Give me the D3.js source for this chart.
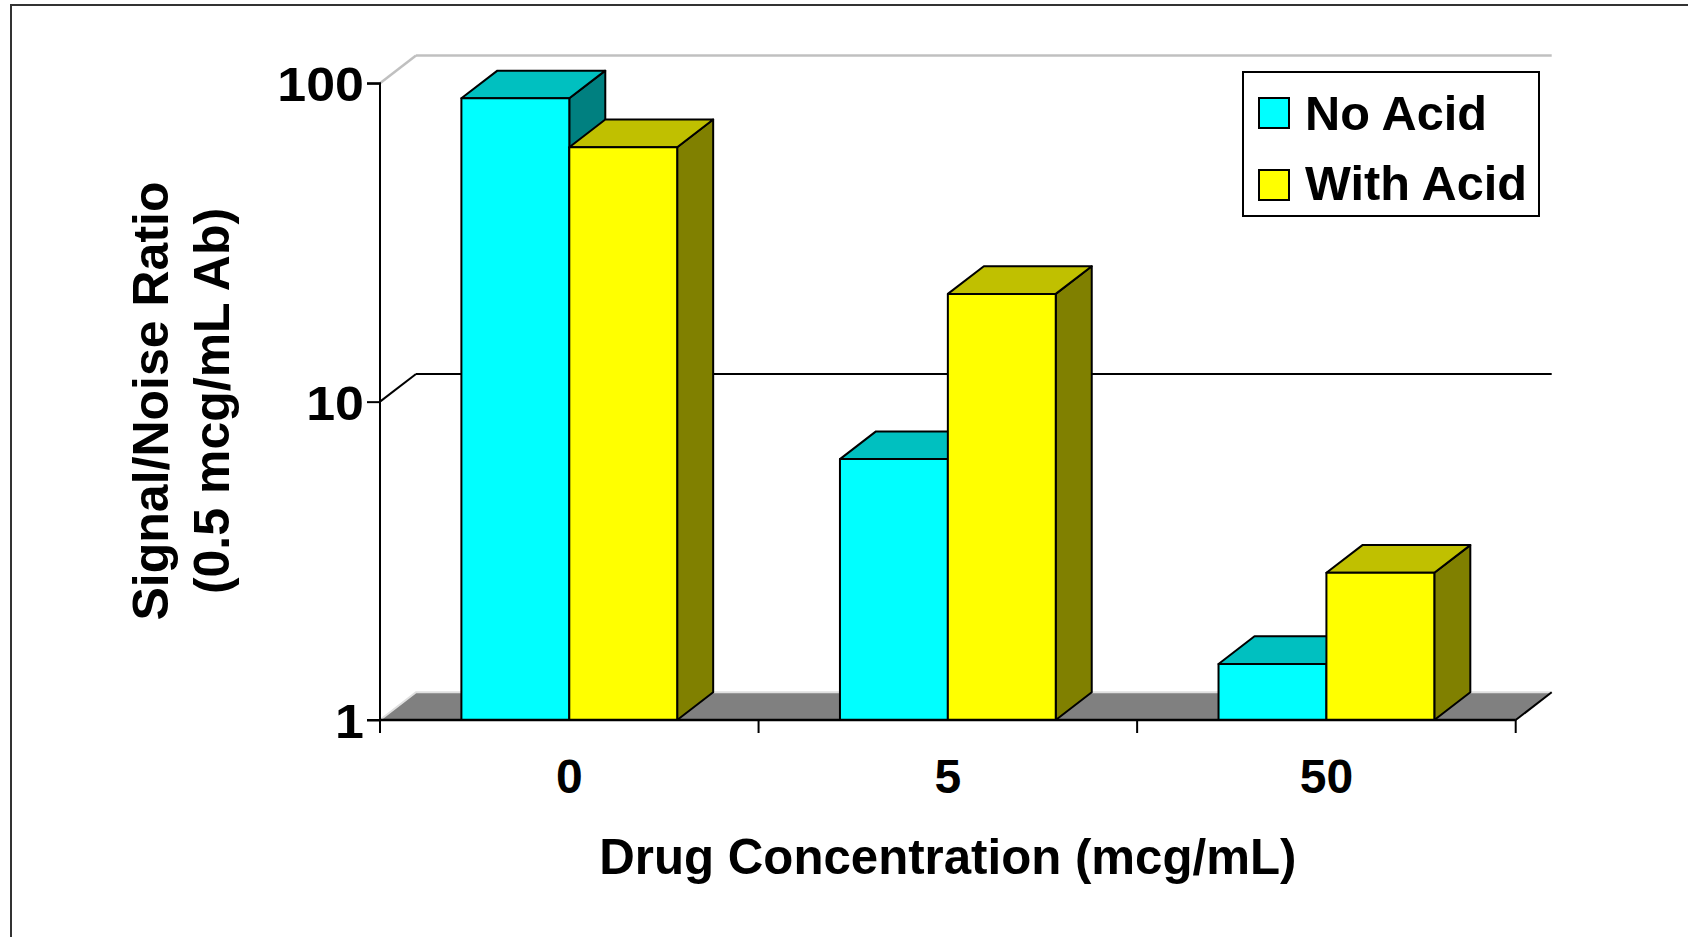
<!DOCTYPE html>
<html>
<head>
<meta charset="utf-8">
<script src="https://cdn.jsdelivr.net/npm/d3@7"></script>
<style>
  html, body { margin: 0; padding: 0; background: #fff; }
  svg { display: block; font-family: "Liberation Sans", Arial, sans-serif; font-weight: bold; }
</style>
</head>
<body>
<svg id="chart" width="1688" height="937"></svg>
<script>
// Signal/noise ratio by drug concentration, with and without acid
const categories = ["0", "5", "50"];
const seriesNames = ["No Acid", "With Acid"];
const noAcid = [89.7, 6.6, 1.5];
const withAcid = [63, 21.8, 2.9];
const yTicks = [1, 10, 100];

const seriesValues = [noAcid, withAcid];
const palette = {
  "No Acid":   { front: "#00FFFF", top: "#00C0C0", side: "#008080" },
  "With Acid": { front: "#FFFF00", top: "#C0C000", side: "#808000" }
};

const svg = d3.select("#chart");

// outer frame
svg.append("rect")
  .attr("x", 11).attr("y", 5).attr("width", 1720).attr("height", 1000)
  .attr("fill", "none").attr("stroke", "#333").attr("stroke-width", 2);

// plot geometry (front plane + depth offset of the 3D box)
const x0 = 380, x1 = 1515.7, yBase = 720, yTop = 83.3;
const depthX = 36, depthY = -27.7;

const x = d3.scaleBand().domain(categories).range([x0, x1]).padding(0);
const y = d3.scaleLog().domain([1, 100]).range([yBase, yTop]);
const groupW = x.bandwidth() * 0.57;
const xs = d3.scaleBand().domain(seriesNames)
  .range([(x.bandwidth() - groupW) / 2, (x.bandwidth() + groupW) / 2]).padding(0);

// back wall top edge and side-wall diagonal at the top value
svg.append("line")
  .attr("x1", x0 + depthX).attr("x2", x1 + depthX)
  .attr("y1", y(100) + depthY).attr("y2", y(100) + depthY)
  .attr("stroke", "#c0c0c0").attr("stroke-width", 2.5);
svg.append("line")
  .attr("x1", x0).attr("y1", y(100))
  .attr("x2", x0 + depthX).attr("y2", y(100) + depthY)
  .attr("stroke", "#c0c0c0").attr("stroke-width", 2.5);

// interior gridlines on the back wall and side wall
yTicks.filter(t => t > 1 && t < 100).forEach(t => {
  svg.append("line")
    .attr("x1", x0 + depthX).attr("x2", x1 + depthX)
    .attr("y1", y(t) + depthY).attr("y2", y(t) + depthY)
    .attr("stroke", "#000").attr("stroke-width", 2);
  svg.append("line")
    .attr("x1", x0).attr("y1", y(t))
    .attr("x2", x0 + depthX).attr("y2", y(t) + depthY)
    .attr("stroke", "#000").attr("stroke-width", 2);
});

// floor
svg.append("path")
  .attr("d", `M${x0},${yBase} L${x1},${yBase} L${x1 + depthX},${yBase + depthY} L${x0 + depthX},${yBase + depthY} Z`)
  .attr("fill", "#808080");
svg.append("path")
  .attr("d", `M${x0},${yBase} L${x0 + depthX},${yBase + depthY} L${x1 + depthX},${yBase + depthY}`)
  .attr("fill", "none").attr("stroke", "#e0e0e0").attr("stroke-width", 2);
svg.append("line")
  .attr("x1", x1).attr("y1", yBase).attr("x2", x1 + depthX).attr("y2", yBase + depthY)
  .attr("stroke", "#000").attr("stroke-width", 2);

// 3D columns
const bars = [];
categories.forEach((c, i) => {
  seriesNames.forEach((s, j) => {
    bars.push({ cat: c, series: s, value: seriesValues[j][i] });
  });
});

const barG = svg.append("g");
bars.forEach(d => {
  const left = x(d.cat) + xs(d.series);
  const right = left + xs.bandwidth();
  const top = y(d.value);
  const col = palette[d.series];
  const g = barG.append("g")
    .attr("stroke", "#000").attr("stroke-width", 2).attr("stroke-linejoin", "round");
  // right side face
  g.append("path")
    .attr("d", `M${right},${yBase} L${right + depthX},${yBase + depthY} L${right + depthX},${top + depthY} L${right},${top} Z`)
    .attr("fill", col.side);
  // top face
  g.append("path")
    .attr("d", `M${left},${top} L${left + depthX},${top + depthY} L${right + depthX},${top + depthY} L${right},${top} Z`)
    .attr("fill", col.top);
  // front face
  g.append("rect")
    .attr("x", left).attr("y", top).attr("width", right - left).attr("height", yBase - top)
    .attr("fill", col.front);
});

// y axis
const yAxis = d3.axisLeft(y).tickValues(yTicks).tickFormat(d3.format("d")).tickSize(13).tickPadding(3);
const yg = svg.append("g").attr("transform", `translate(${x0},0)`).call(yAxis);
yg.select(".domain").attr("stroke", "#000").attr("stroke-width", 2)
  .attr("d", `M-13,${yTop}H0V${yBase}H-13`);
yg.selectAll(".tick line").attr("stroke", "#000").attr("stroke-width", 2);
yg.selectAll(".tick text")
  .attr("fill", "#000").attr("font-size", 49).attr("font-weight", "bold")
  .attr("font-family", "'Liberation Sans', Arial, sans-serif")
  .attr("x", 0)
  .attr("transform", "translate(-16,0) scale(1.06,1)")
  .attr("dy", "0.36em");

// x axis (ticks on category boundaries)
const xg = svg.append("g");
xg.append("line")
  .attr("x1", x0).attr("x2", x1).attr("y1", yBase).attr("y2", yBase)
  .attr("stroke", "#000").attr("stroke-width", 2.5);
const boundaries = categories.map(c => x(c)).concat([x1]);
xg.selectAll("line.tk").data(boundaries).enter().append("line")
  .attr("class", "tk")
  .attr("x1", d => d).attr("x2", d => d)
  .attr("y1", yBase).attr("y2", yBase + 13)
  .attr("stroke", "#000").attr("stroke-width", 2);
xg.selectAll("text").data(categories).enter().append("text")
  .attr("x", d => x(d) + x.bandwidth() / 2)
  .attr("y", 793)
  .attr("text-anchor", "middle")
  .attr("font-size", 48)
  .text(d => d);

// axis titles
svg.append("text")
  .attr("x", (x0 + x1) / 2).attr("y", 874)
  .attr("text-anchor", "middle").attr("font-size", 50)
  .attr("textLength", 697).attr("lengthAdjust", "spacingAndGlyphs")
  .text("Drug Concentration (mcg/mL)");

const yTitle = svg.append("text")
  .attr("transform", "translate(168,401) rotate(-90)")
  .attr("text-anchor", "middle").attr("font-size", 50);
yTitle.append("tspan").attr("x", 0).attr("y", 0).text("Signal/Noise Ratio");
yTitle.append("tspan").attr("x", 0).attr("y", 61).text("(0.5 mcg/mL Ab)");

// legend
const legendLen = { "No Acid": 182, "With Acid": 222 };
const lg = svg.append("g").attr("transform", "translate(1243,72)");
lg.append("rect").attr("width", 296).attr("height", 144)
  .attr("fill", "#fff").attr("stroke", "#000").attr("stroke-width", 2);
seriesNames.forEach((s, i) => {
  lg.append("rect")
    .attr("x", 16).attr("y", 26 + i * 72).attr("width", 30).attr("height", 30)
    .attr("fill", palette[s].front).attr("stroke", "#000").attr("stroke-width", 2);
  lg.append("text")
    .attr("x", 62).attr("y", 58 + i * 70)
    .attr("font-size", 48)
    .attr("textLength", legendLen[s]).attr("lengthAdjust", "spacingAndGlyphs")
    .text(s);
});
</script>
</body>
</html>
